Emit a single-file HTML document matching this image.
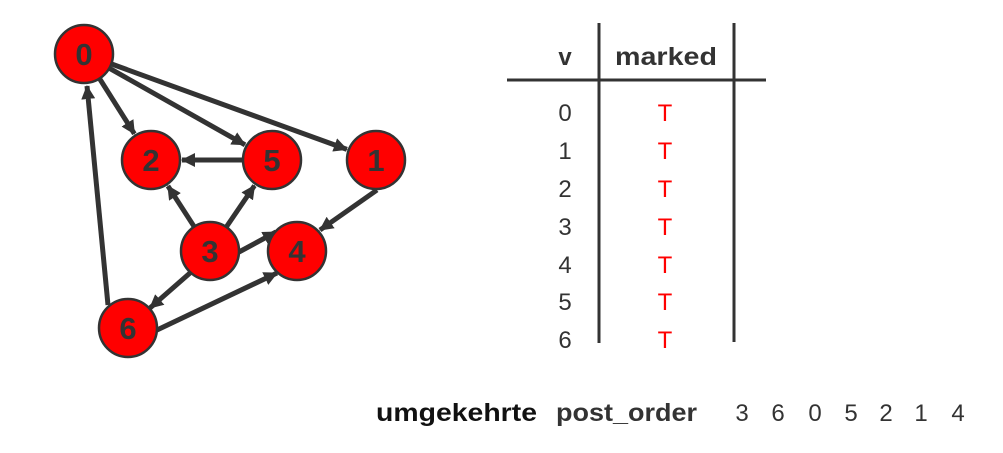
<!DOCTYPE html>
<html><head><meta charset="utf-8"><style>
html,body{margin:0;padding:0;background:#fff;}
svg{display:block;}
text{font-family:"Liberation Sans",sans-serif;}
</style></head><body>
<svg width="1003" height="453" viewBox="0 0 1003 453" xmlns="http://www.w3.org/2000/svg">
<defs>
<marker id="a" markerUnits="userSpaceOnUse" markerWidth="14" markerHeight="14" refX="13" refY="7" orient="auto">
<path d="M0,0 L14,7 L0,14 z" fill="#333"/>
</marker>
</defs>
<g stroke="#333" stroke-width="5" fill="none" marker-end="url(#a)">
<line x1="99.5" y1="78.5" x2="134.4" y2="133.8"/>
<line x1="109.3" y1="68.2" x2="245" y2="144.8"/>
<line x1="111.3" y1="63.9" x2="346.9" y2="149.4"/>
<line x1="243" y1="160" x2="182" y2="160"/>
<line x1="194.2" y1="226.7" x2="167.9" y2="186"/>
<line x1="226.3" y1="227" x2="254.5" y2="185.6"/>
<line x1="239" y1="252" x2="276" y2="232"/>
<line x1="190" y1="273" x2="150" y2="308"/>
<line x1="377" y1="190" x2="320" y2="230"/>
<line x1="157" y1="330" x2="277" y2="273"/>
<line x1="108" y1="305" x2="87" y2="86"/>
</g>
<g fill="#f00" stroke="#333" stroke-width="2.5">
<circle cx="84" cy="54" r="29"/>
<circle cx="151" cy="160" r="29"/>
<circle cx="272" cy="160" r="29"/>
<circle cx="376" cy="160" r="29"/>
<circle cx="210" cy="251" r="29"/>
<circle cx="297" cy="251" r="29"/>
<circle cx="128" cy="328" r="29"/>
</g>
<g fill="#333" font-weight="bold" font-size="31" text-anchor="middle">
<text x="84" y="65">0</text>
<text x="151" y="171">2</text>
<text x="272" y="171">5</text>
<text x="376" y="171">1</text>
<text x="210" y="262">3</text>
<text x="297" y="262">4</text>
<text x="128" y="339">6</text>
</g>
<g stroke="#333" stroke-width="3">
<line x1="599" y1="23" x2="599" y2="343"/>
<line x1="734" y1="23" x2="734" y2="342"/>
<line x1="507" y1="80" x2="766" y2="80"/>
</g>
<g font-size="24" text-anchor="middle">
<text x="565" y="65" fill="#333" font-weight="bold">v</text>
<text x="666" y="65" fill="#333" font-weight="bold" font-size="25" textLength="102" lengthAdjust="spacingAndGlyphs">marked</text>
<g fill="#333">
<text x="565" y="121">0</text>
<text x="565" y="159">1</text>
<text x="565" y="197">2</text>
<text x="565" y="235">3</text>
<text x="565" y="273">4</text>
<text x="565" y="310">5</text>
<text x="565" y="348">6</text>
</g>
<g fill="#f00">
<text x="665" y="121">T</text>
<text x="665" y="159">T</text>
<text x="665" y="197">T</text>
<text x="665" y="235">T</text>
<text x="665" y="273">T</text>
<text x="665" y="310">T</text>
<text x="665" y="348">T</text>
</g>
</g>
<g font-size="25" fill="#111">
<text x="376" y="421" font-weight="bold" textLength="161" lengthAdjust="spacingAndGlyphs">umgekehrte</text>
<text x="556" y="421" font-weight="bold" fill="#333" textLength="141" lengthAdjust="spacingAndGlyphs">post_order</text>
</g>
<g font-size="24" fill="#333" text-anchor="middle">
<text x="742" y="421">3</text>
<text x="778" y="421">6</text>
<text x="815" y="421">0</text>
<text x="851" y="421">5</text>
<text x="886" y="421">2</text>
<text x="921" y="421">1</text>
<text x="958" y="421">4</text>
</g>
</svg>
</body></html>
